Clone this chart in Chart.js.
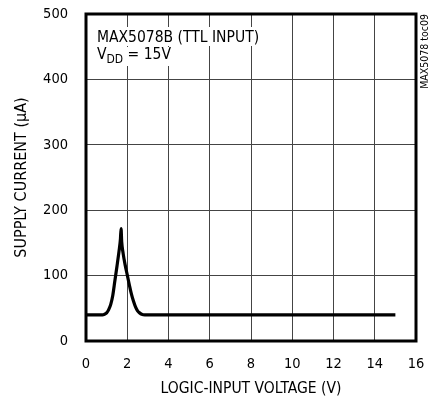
<!DOCTYPE html>
<html>
<head>
<meta charset="utf-8">
<script src="https://cdn.jsdelivr.net/npm/chart.js@4/dist/chart.umd.min.js"></script>
<style>
  html, body { margin: 0; padding: 0; background: #fff; }
  #wrap { width: 432px; height: 405px; }
</style>
</head>
<body>
<div id="wrap"><canvas id="chart" width="432" height="405"></canvas></div>
<script>
const FONT = '"Liberation Sans Narrow", "DejaVu Sans Condensed", "Arial Narrow", sans-serif';

// logic-input voltage (V) vs supply current (uA)
const voltage = [0, 0.8, 0.9, 1.0, 1.1, 1.2, 1.3, 1.4, 1.5, 1.6, 1.67, 1.7, 1.73, 1.8, 1.9, 2.0, 2.1, 2.2, 2.3, 2.4, 2.5, 2.6, 2.7, 2.85, 15];
const current = [40, 40, 41, 43, 48, 56, 70, 92, 114, 137, 156, 172, 152, 134, 116, 101, 86, 72, 61, 52, 46, 43, 41, 40, 40];

const xTicks = [0, 2, 4, 6, 8, 10, 12, 14, 16];
const yTicks = [0, 100, 200, 300, 400, 500];

const noteLine1 = "MAX5078B (TTL INPUT)";
const noteLine2 = ["V", "DD", " = 15V"];
const sideTag = "MAX5078 toc09";

// frame + annotations
const decor = {
  id: "decor",
  afterDatasetsDraw(chart) {
    const { ctx, chartArea: a, scales } = chart;
    ctx.save();
    ctx.strokeStyle = "#000";
    ctx.lineWidth = 3;
    ctx.strokeRect(a.left, a.top, a.right - a.left, a.bottom - a.top);

    // note text with white background over the grid
    const x0 = scales.x.getPixelForValue(0) + 11;
    ctx.font = "15.5px " + FONT;
    ctx.textBaseline = "alphabetic";
    const w1 = ctx.measureText(noteLine1).width;
    ctx.fillStyle = "#fff";
    ctx.fillRect(x0 - 2, 27, w1 + 4, 19);
    ctx.fillStyle = "#000";
    ctx.fillText(noteLine1, x0, 42);

    const vW = ctx.measureText(noteLine2[0]).width;
    ctx.font = "12px " + FONT;
    const ddW = ctx.measureText(noteLine2[1]).width;
    ctx.font = "15.5px " + FONT;
    const restW = ctx.measureText(noteLine2[2]).width;
    ctx.fillStyle = "#fff";
    ctx.fillRect(x0 - 2, 47, vW + ddW + restW + 4, 19);
    ctx.fillStyle = "#000";
    ctx.fillText(noteLine2[0], x0, 59);
    ctx.font = "12px " + FONT;
    ctx.fillText(noteLine2[1], x0 + vW, 63);
    ctx.font = "15.5px " + FONT;
    ctx.fillText(noteLine2[2], x0 + vW + ddW, 59);

    // side tag
    ctx.font = "10.5px " + FONT;
    ctx.translate(a.right + 9, a.top);
    ctx.rotate(-Math.PI / 2);
    ctx.textAlign = "right";
    ctx.textBaseline = "middle";
    ctx.fillText(sideTag, 0, 0);
    ctx.restore();
  }
};

new Chart(document.getElementById("chart").getContext("2d"), {
  type: "line",
  data: {
    datasets: [{
      data: voltage.map((v, i) => ({ x: v, y: current[i] })),
      borderColor: "#000",
      borderWidth: 3.2,
      pointRadius: 0,
      fill: false,
      cubicInterpolationMode: "monotone"
    }]
  },
  options: {
    responsive: false,
    animation: false,
    layout: { padding: { top: 14, right: 16, left: 0, bottom: 0 } },
    plugins: { legend: { display: false }, tooltip: { enabled: false } },
    scales: {
      x: {
        type: "linear", min: 0, max: 16,
        afterFit: s => { s.height = 64; s.paddingLeft = 0; s.paddingRight = 0; },
        afterBuildTicks: s => { s.ticks = xTicks.map(v => ({ value: v })); },
        grid: { color: "#444", lineWidth: 1, drawTicks: false },
        border: { display: false },
        ticks: { color: "#000", font: { family: FONT, size: 14.5 }, padding: 15, maxRotation: 0 },
        title: { display: true, text: "LOGIC-INPUT VOLTAGE (V)", color: "#000", font: { family: FONT, size: 15.5 }, padding: { bottom: 7 } }
      },
      y: {
        type: "linear", min: 0, max: 500,
        afterFit: s => { s.width = 86; s.paddingTop = 0; s.paddingBottom = 0; },
        afterBuildTicks: s => { s.ticks = yTicks.map(v => ({ value: v })); },
        grid: { color: "#444", lineWidth: 1, drawTicks: false },
        border: { display: false },
        ticks: { color: "#000", font: { family: FONT, size: 14.5 }, padding: 18 },
        title: { display: true, text: "SUPPLY CURRENT (µA)", color: "#000", font: { family: FONT, size: 16 }, padding: { top: 12 } }
      }
    }
  },
  plugins: [decor]
});
</script>
</body>
</html>
